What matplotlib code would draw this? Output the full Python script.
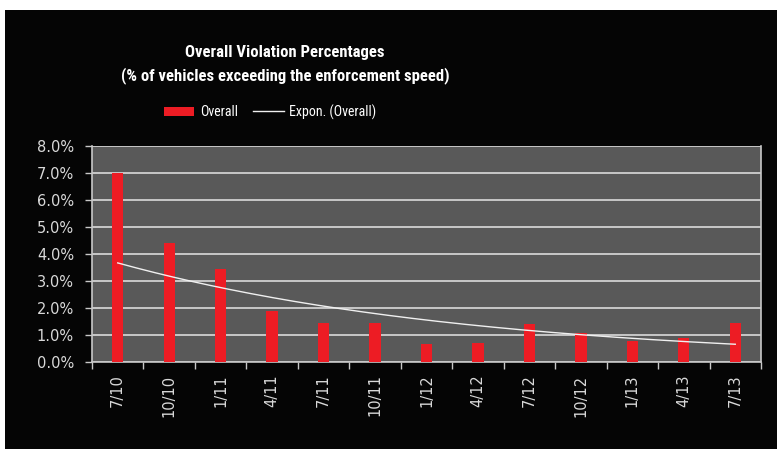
import numpy as np
import matplotlib.pyplot as plt
from matplotlib.patches import Rectangle
from matplotlib.ticker import FuncFormatter, FixedLocator

# Quarterly survey dates
quarters = ["7/10", "10/10", "1/11", "4/11", "7/11", "10/11", "1/12",
            "4/12", "7/12", "10/12", "1/13", "4/13", "7/13"]

# Share of vehicles over the enforcement speed (%)
overall = [7.0, 4.4, 3.46, 1.89, 1.46, 1.46, 0.68,
           0.72, 1.41, 1.07, 0.77, 0.88, 1.43]

# Exponential trendline (least squares on log values, like Excel)
idx = np.arange(len(overall))
slope, intercept = np.polyfit(idx, np.log(overall), 1)
x_fit = np.linspace(idx[0], idx[-1], 200)
y_fit = np.exp(intercept + slope * x_fit)

title_font = ["Roboto Condensed", "Liberation Sans", "DejaVu Sans"]
tick_color = "#d9d9d9"

fig = plt.figure(figsize=(7.77, 4.49), dpi=100)
fig.patch.set_facecolor("white")

# Black slide background
fig.patches.append(Rectangle((5 / 777, 0), 1, 1 - 10 / 449,
                             transform=fig.transFigure, facecolor="#050505",
                             edgecolor="none", zorder=-10))

ax = fig.add_axes([92 / 777, 1 - 362 / 449, 669 / 777, 216 / 449])
ax.set_facecolor("#595959")

bars = ax.bar(idx, overall, width=0.22, color="#ed1c24", label="Overall", zorder=3)
trend, = ax.plot(x_fit, y_fit, color="#f0f0f0", linewidth=1.0,
                 label="Expon. (Overall)", zorder=4)

ax.set_xlim(-0.5, len(overall) - 0.5)
ax.set_ylim(0, 8)
ax.set_yticks(np.arange(0, 9, 1))
ax.yaxis.set_major_formatter(FuncFormatter(lambda v, p: f"{v:.1f}%"))
ax.grid(axis="y", color="#c8c8c8", linewidth=1.4, zorder=1)
ax.set_axisbelow(True)

# Category labels in the middle, tick marks on the boundaries
ax.xaxis.set_major_locator(FixedLocator(np.arange(-0.5, len(overall), 1)))
ax.xaxis.set_major_formatter(FuncFormatter(lambda v, p: ""))
ax.xaxis.set_minor_locator(FixedLocator(idx))
ax.set_xticklabels(quarters, minor=True, rotation=90, fontsize=10.5,
                   color=tick_color, family="DejaVu Sans")
ax.tick_params(axis="x", which="minor", length=0, pad=9)
ax.tick_params(axis="x", which="major", length=5, width=1, color="#c8c8c8",
               direction="out")
ax.tick_params(axis="y", length=5, width=1, color="#c8c8c8", labelsize=10.5,
               labelcolor=tick_color, pad=8)

ax.spines["top"].set_visible(False)
for side in ["left", "bottom", "right"]:
    ax.spines[side].set_color("#c8c8c8")
    ax.spines[side].set_linewidth(1.2)

fig.text(285 / 777, 1 - 52 / 449, "Overall Violation Percentages",
         ha="center", va="center", color="white", fontsize=12,
         fontweight="bold", family=title_font)
fig.text(285 / 777, 1 - 76 / 449,
         "(% of vehicles exceeding the enforcement speed)",
         ha="center", va="center", color="white", fontsize=12,
         fontweight="bold", family=title_font)

ax.legend(handles=[bars, trend], loc="center",
          bbox_to_anchor=(270 / 777, 1 - 112 / 449),
          bbox_transform=fig.transFigure, ncol=2, frameon=False,
          prop={"family": title_font, "size": 10}, labelcolor="white",
          handlelength=2.2, handleheight=0.7, columnspacing=1.1,
          handletextpad=0.4)

fig.savefig("out.png", dpi=100, facecolor=fig.get_facecolor())
